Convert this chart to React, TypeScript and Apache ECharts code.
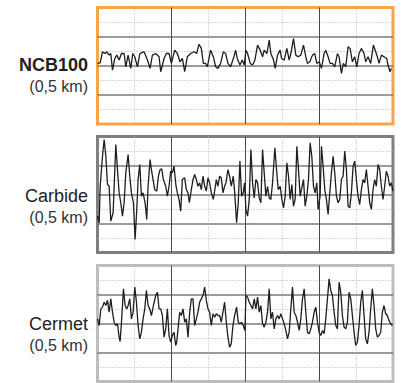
import React, { useEffect, useRef } from "react";
import * as echarts from "echarts";

// Panel labels
const panelNames = ["NCB100", "Carbide", "Cermet"];
const panelSubs = ["(0,5 km)", "(0,5 km)", "(0,5 km)"];

// Axis ranges (sample index along the 0,5 km track, signal amplitude)
const xMax = 888;
const xStep = 222;
const yMin = -4;
const yMax = 4;
const yStep = 2;

// Traces: [sample, amplitude]
const ncb100Trace = [[0,0.16],[8,0.2],[15,0.96],[22,0.84],[28,0.96],[35,0.73],[40,0.84],[45,-0.3],[52,0.5],[58,0.73],[65,0.39],[72,0.84],[80,0.84],[85,-0.07],[92,0.73],[100,-0.18],[106,0.84],[112,0.62],[120,-0.07],[127,0.8],[132,0.9],[140,0.96],[150,0.39],[158,-0.18],[165,0.73],[175,0.84],[185,0.62],[190,-0.41],[200,0.5],[207,0.84],[215,0.84],[222,0.16],[232,1.07],[240,0.84],[248,0.27],[255,0.5],[262,-0.41],[270,0.62],[280,0.84],[290,0.96],[298,0.84],[305,1.48],[312,1.19],[318,0.16],[325,0.16],[330,-0.07],[340,1.07],[348,0.62],[355,-0.07],[362,-0.18],[370,0.16],[378,0.96],[385,0.84],[392,0.16],[400,-0.07],[410,0.62],[415,1.07],[420,0.5],[428,0.05],[435,0.39],[441,0.05],[446,1.07],[451,0.84],[459,0.16],[466,0.05],[473,0.39],[481,1.42],[489,1.07],[496,0.62],[501,1.07],[509,0.84],[516,1.76],[521,0.84],[529,0.39],[534,-0.18],[541,0.73],[549,1.07],[553,0.5],[561,0.39],[569,1.19],[576,0.39],[581,0.84],[589,1.87],[596,0.73],[603,0.62],[611,0.73],[619,1.42],[626,0.62],[631,0.16],[638,0.27],[646,0.73],[653,0.84],[659,0.16],[666,0.27],[673,-0.18],[681,0.84],[686,1.07],[693,0.62],[699,0.16],[706,0.16],[713,-0.07],[721,0.84],[726,0.62],[733,-0.53],[739,0.16],[746,-0.07],[753,1.3],[759,1.19],[766,0.27],[773,0.62],[779,-0.07],[786,0.84],[793,1.19],[801,0.84],[806,0.27],[813,0.62],[821,0.16],[829,1.42],[836,0.96],[841,0.62],[846,0.16],[853,0.73],[861,0.62],[869,0.5],[873,0.05],[879,-0.41],[883,-0.18]];

const carbideTrace = [[0,-1.49],[5,-1.95],[8,0.57],[15,2.64],[20,3.79],[25,2.64],[30,0.69],[35,0.57],[40,-1.84],[47,-1.26],[55,3.45],[60,1.72],[65,0.11],[70,-0.57],[75,-1.49],[80,-0.57],[85,1.49],[92,2.76],[97,1.26],[102,0.11],[108,-0.57],[113,-3.1],[118,-1.03],[122,1.03],[127,2.07],[132,-0.11],[137,0.11],[143,-0.57],[148,-1.72],[152,0.57],[158,2.41],[162,1.72],[167,1.03],[172,0.34],[178,0.23],[183,1.26],[188,1.72],[193,1.77],[198,1.03],[205,0.57],[210,-0.11],[215,0.57],[220,1.61],[225,1.49],[230,1.95],[236,0.57],[240,0.11],[245,-0.34],[250,-1.15],[255,1.03],[262,1.15],[267,0.34],[272,0.11],[276,-0.57],[282,0.34],[287,1.03],[292,1.38],[297,1.03],[302,0.57],[307,0.8],[312,0.34],[317,1.26],[322,0.57],[327,0.23],[332,1.15],[337,0.8],[342,0.11],[348,-0.34],[352,0.23],[357,1.03],[362,0.57],[367,1.26],[372,1.15],[377,0.11],[382,0.57],[386,0.8],[392,1.72],[397,1.26],[402,0.57],[408,1.26],[412,0.23],[418,-1.95],[423,-0.57],[428,2.3],[433,-0.11],[438,0.11],[442,0.8],[446,-1.03],[451,-1.49],[456,-0.34],[461,3.1],[466,0.8],[471,-0.23],[476,1.03],[481,0.8],[486,-0.23],[491,-0.57],[496,3.1],[501,1.49],[506,-0.11],[511,0.57],[516,-0.23],[521,-0.34],[526,0.8],[533,3.22],[538,1.72],[543,0.34],[549,0.57],[554,-0.34],[559,-0.92],[564,-0.11],[569,2.18],[574,1.26],[579,-0.34],[584,0.69],[589,-0.8],[594,-0.34],[599,3.33],[604,1.72],[609,-0.11],[614,0.46],[619,1.03],[624,-0.8],[629,-0.11],[634,1.03],[639,3.56],[644,2.64],[649,0.57],[654,0.11],[659,0.8],[663,-1.03],[669,-0.11],[673,3.33],[678,1.95],[683,0.34],[688,-0.34],[693,-1.38],[698,0.11],[703,1.49],[708,2.64],[713,1.49],[718,-0.11],[723,-0.57],[728,-0.34],[733,1.03],[738,1.26],[743,2.99],[748,1.72],[753,-0.8],[758,-0.92],[763,0.11],[768,1.95],[773,2.3],[778,1.03],[783,-0.11],[788,-0.69],[793,0.34],[798,1.03],[803,0.8],[808,1.72],[813,0.57],[818,-0.57],[823,-1.03],[828,0.34],[833,1.03],[838,0.57],[843,2.07],[848,1.72],[853,0.57],[858,-0.34],[863,0.57],[868,1.61],[873,1.26],[878,0.57],[883,0.8],[888,0.23]];

const cermetTrace = [[0,0.32],[5,-0.14],[10,1.01],[15,1.13],[20,1.47],[25,1.24],[30,1.59],[35,0.78],[40,1.7],[45,0.78],[50,0.09],[55,-0.14],[60,-0.02],[65,-0.94],[68,-1.24],[72,0.09],[78,2.39],[83,1.24],[88,1.01],[92,1.24],[97,1.7],[102,0.32],[107,0.78],[112,2.51],[117,1.47],[122,-0.14],[127,-1.06],[132,-0.6],[137,0.32],[142,1.01],[147,2.28],[152,1.24],[157,1.01],[162,0.55],[168,1.24],[175,1.93],[180,2.16],[185,1.01],[190,1.01],[195,0.55],[200,-0.94],[205,-0.37],[210,1.01],[215,-0.83],[220,-1.29],[225,-0.83],[230,-0.6],[235,-1.52],[238,-1.29],[242,-0.37],[247,0.78],[252,0.55],[257,1.01],[262,0.09],[267,0.32],[272,-0.94],[277,0.78],[282,1.7],[287,1.7],[292,-0.14],[297,0.32],[302,0.78],[307,1.47],[312,1.7],[317,1.93],[322,2.51],[327,1.59],[332,1.01],[337,0.78],[342,-0.14],[347,0.67],[352,0.44],[357,0.67],[362,0.55],[367,0.55],[372,0.09],[377,0.78],[382,1.47],[387,0.09],[392,-0.94],[397,-1.63],[402,-1.4],[407,-0.14],[412,0.55],[418,1.13],[423,0.09],[428,-0.02],[433,0.09],[438,-0.14],[443,-0.48],[446,1.93],[451,1.82],[456,1.47],[461,1.24],[466,1.01],[471,1.7],[476,1.01],[481,1.82],[486,0.78],[491,1.24],[496,-0.02],[501,-0.25],[506,0.09],[511,0.78],[516,2.39],[521,0.32],[526,0.78],[531,-0.37],[536,0.32],[541,0.55],[546,0.32],[551,0.67],[556,0.32],[561,-0.02],[566,-0.48],[571,-1.06],[576,-0.6],[581,1.01],[586,2.51],[591,0.78],[596,0.55],[601,0.09],[606,-0.48],[611,0.32],[616,1.7],[621,2.39],[626,0.78],[631,-0.6],[636,-0.71],[641,-0.37],[646,0.09],[651,0.78],[656,1.13],[661,0.09],[666,-0.6],[671,-0.83],[676,-0.48],[681,-0.71],[686,0.32],[691,1.7],[696,3.08],[701,2.28],[706,1.93],[711,0.78],[716,-0.14],[721,-0.37],[726,2.85],[731,2.16],[736,0.55],[741,-0.25],[746,-0.37],[751,0.09],[756,2.16],[761,1.7],[766,0.55],[771,-0.6],[776,-1.52],[781,-1.29],[786,-0.14],[791,1.47],[796,2.28],[801,0.55],[806,-1.06],[811,-1.4],[816,-0.6],[821,1.01],[826,2.39],[831,1.24],[836,-0.37],[841,-0.94],[846,-0.83],[851,-0.6],[856,0.78],[861,1.24],[866,0.67],[871,0.55],[876,0.2],[881,-0.02],[886,-0.14]];

const traces = [ncb100Trace, carbideTrace, cermetTrace];

// Layout (pixels) and styles
const panelTops = [7.5, 136.5, 265.5];
const panelHeights = [116.5, 116, 116];
const panelLeft = 97.5;
const panelWidth = 295.5;
const borderColors = ["#F5A54C", "#7F7F7F", "#BDBDBD"];
const nameY = [65, 196, 324];
const subY = [86, 217, 345];
const FONT = "'Liberation Sans', Arial, Helvetica, sans-serif";

export default function App() {
  const ref = useRef<HTMLDivElement>(null);
  useEffect(() => {
    const chart = echarts.init(ref.current!, null, { renderer: "svg" });
    const grid = panelTops.map((top, i) => ({
      left: panelLeft,
      top,
      width: panelWidth,
      height: panelHeights[i],
      show: true,
      backgroundColor: "#ffffff",
      borderColor: borderColors[i],
      borderWidth: 3,
    }));
    const xAxis = panelTops.map((_, i) => ({
      type: "value",
      gridIndex: i,
      min: 0,
      max: xMax,
      interval: xStep,
      axisLine: { show: false },
      axisTick: { show: false },
      axisLabel: { show: false },
      splitLine: { show: true, showMinLine: false, showMaxLine: false, lineStyle: { color: "#4a4a4a", width: 1 } },
      minorTick: { show: false, splitNumber: 2 },
      minorSplitLine: { show: true, lineStyle: { color: "#b0b0b0", width: 1, type: [1, 2] } },
    }));
    const yAxis = panelTops.map((_, i) => ({
      type: "value",
      gridIndex: i,
      min: yMin,
      max: yMax,
      interval: yStep,
      axisLine: { show: false },
      axisTick: { show: false },
      axisLabel: { show: false },
      splitLine: { show: true, showMinLine: false, showMaxLine: false, lineStyle: { color: "#7a7a7a", width: 1.5 } },
      minorTick: { show: false, splitNumber: 2 },
      minorSplitLine: { show: true, lineStyle: { color: "#b0b0b0", width: 1, type: [1, 2] } },
    }));
    const series = traces.map((trace, i) => ({
      type: "line",
      xAxisIndex: i,
      yAxisIndex: i,
      data: trace,
      showSymbol: false,
      symbol: "none",
      lineStyle: { color: "#1e1e1e", width: 1.3 },
      z: 3,
    }));
    const graphic: any[] = [];
    panelNames.forEach((name, i) => {
      graphic.push({
        type: "text",
        x: 88,
        y: nameY[i],
        style: {
          text: name,
          fill: "#222",
          font: `${i === 0 ? "bold " : ""}18px ${FONT}`,
          textAlign: "right",
          textVerticalAlign: "middle",
        },
      });
      graphic.push({
        type: "text",
        x: 88,
        y: subY[i],
        style: {
          text: panelSubs[i],
          fill: "#333",
          font: `16px ${FONT}`,
          textAlign: "right",
          textVerticalAlign: "middle",
        },
      });
    });
    chart.setOption({
      animation: false,
      backgroundColor: "#ffffff",
      grid,
      xAxis,
      yAxis,
      series,
      graphic,
    });
    return () => chart.dispose();
  }, []);
  return (
    <div
      ref={ref}
      style={{ position: "fixed", left: 0, top: 0, width: 401, height: 383, background: "#fff" }}
    />
  );
}
